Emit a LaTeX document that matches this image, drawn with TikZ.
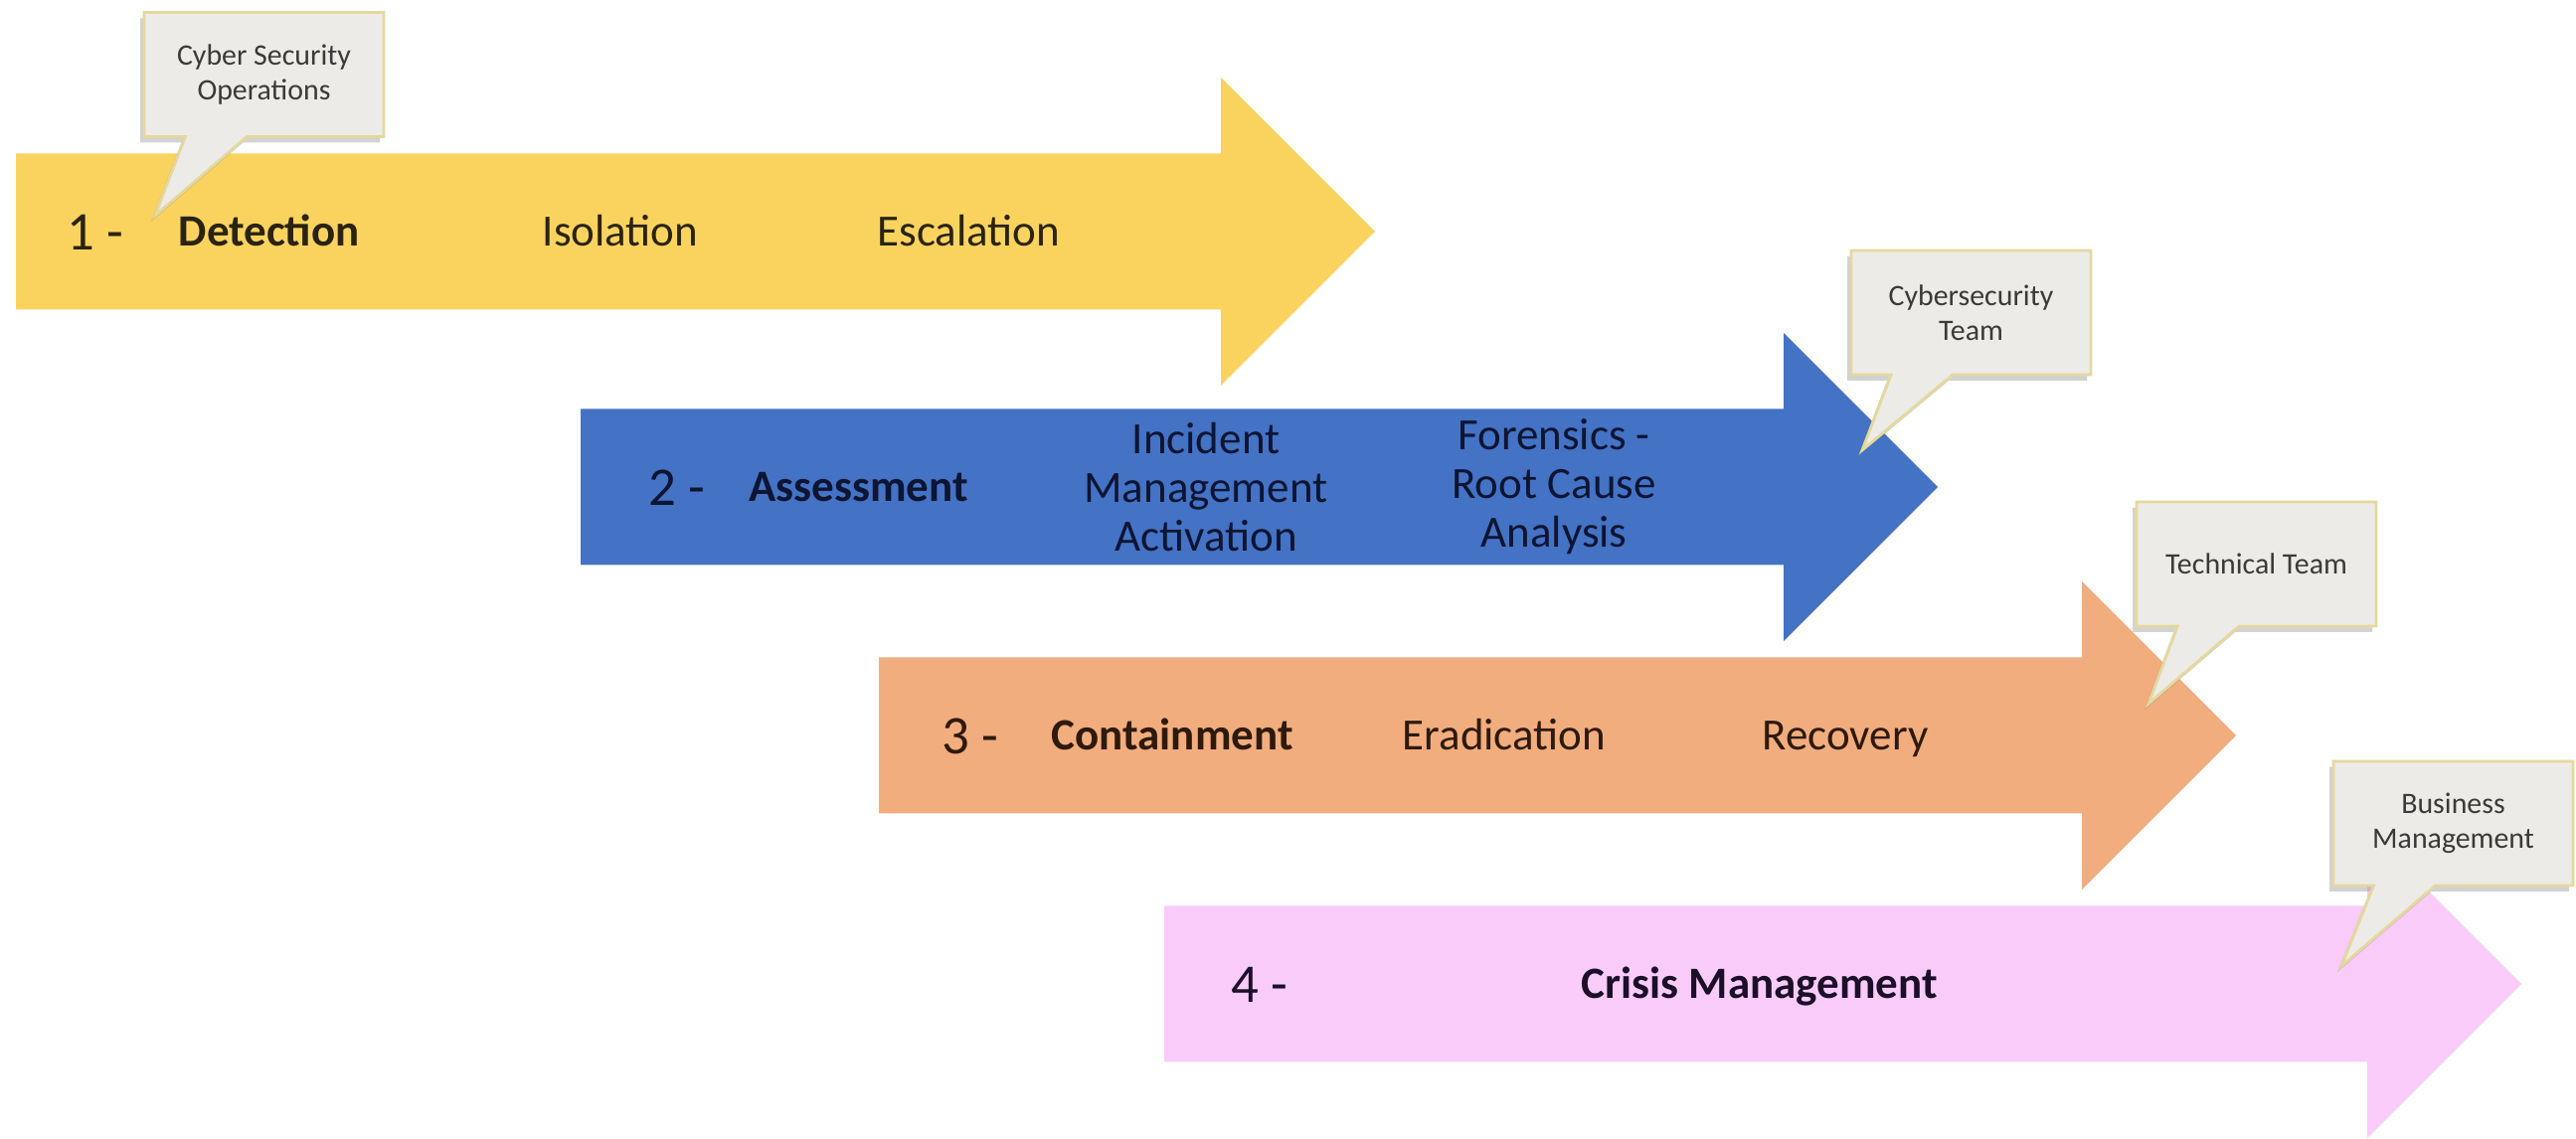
\documentclass[tikz,border=0pt]{standalone}
\usepackage{fontspec}
\setmainfont{Carlito}
\usepackage{xcolor}
\usepackage{tikz}
\usetikzlibrary{shapes.callouts,shadows}

\definecolor{stageyellow}{RGB}{250,211,95}
\definecolor{stageblue}{RGB}{68,114,196}
\definecolor{stageorange}{RGB}{241,173,126}
\definecolor{stagepink}{RGB}{249,203,249}
\definecolor{bubblefill}{RGB}{236,235,231}
\definecolor{bubbleline}{RGB}{228,216,158}
\definecolor{bubbletext}{RGB}{58,58,58}
\definecolor{inkyellow}{RGB}{42,35,16}
\definecolor{inkblue}{RGB}{13,21,51}
\definecolor{inkorange}{RGB}{46,26,12}
\definecolor{inkpink}{RGB}{28,15,42}

\begin{document}
\begin{tikzpicture}[
    stage/.style={anchor=base west, inner sep=0pt, font=\fontsize{12.8}{13.9}\selectfont},
    num/.style={anchor=base west, inner sep=0pt, font=\fontsize{15.6}{18}\selectfont},
    multi/.style={align=center, inner sep=0pt, font=\fontsize{12.8}{13.9}\selectfont},
    bubble/.style={rectangle callout, fill=bubblefill, draw=bubbleline, line width=0.8pt,
        minimum width=2.41cm, minimum height=1.25cm, callout pointer width=0.62cm,
        align=center, inner sep=0pt, text=bubbletext, font=\fontsize{8.5}{9.96}\selectfont,
        drop shadow={shadow xshift=-0.4mm, shadow yshift=-0.6mm, opacity=0.35}}
]
    \fill[white] (0,0) rectangle (25.91,11.46);
    \useasboundingbox (0,0) rectangle (25.91,11.46);

    % the four stage arrows
    \fill[stageyellow] (0.16,8.345) -- (12.28,8.345) -- (12.28,7.58) -- (13.83,9.13)
        -- (12.28,10.68) -- (12.28,9.915) -- (0.16,9.915) -- cycle;
    \fill[stageblue] (5.84,5.775) -- (17.94,5.775) -- (17.94,5.01) -- (19.49,6.56)
        -- (17.94,8.11) -- (17.94,7.345) -- (5.84,7.345) -- cycle;
    \fill[stageorange] (8.84,3.275) -- (20.94,3.275) -- (20.94,2.51) -- (22.49,4.06)
        -- (20.94,5.61) -- (20.94,4.845) -- (8.84,4.845) -- cycle;
    \fill[stagepink] (11.71,0.775) -- (23.81,0.775) -- (23.81,0.01) -- (25.36,1.56)
        -- (23.81,3.11) -- (23.81,2.345) -- (11.71,2.345) -- cycle;

    % 1 - detection
    \node[num, text=inkyellow] (one) at (0.67,8.94) {1 -};
    \node[stage, text=inkyellow] (det) at (1.79,8.985) {\textbf{Detection}};
    \node[stage, text=inkyellow] (iso) at (5.45,8.985) {Isolation};
    \node[stage, text=inkyellow] (esc) at (8.82,8.985) {Escalation};

    % 2 - assessment
    \node[num, text=inkblue] (two) at (6.52,6.37) {2 -};
    \node[stage, text=inkblue] (ass) at (7.53,6.415) {\textbf{Assessment}};
    \node[multi, text=inkblue] (act) at (12.13,6.56) {Incident\\Management\\Activation};
    \node[multi, text=inkblue] (rca) at (15.63,6.56) {Forensics -\\Root Cause\\Analysis};

    % 3 - containment
    \node[num, text=inkorange] (three) at (9.47,3.87) {3 -};
    \node[stage, text=inkorange] (con) at (10.57,3.915) {\textbf{Containment}};
    \node[stage, text=inkorange] (era) at (14.10,3.915) {Eradication};
    \node[stage, text=inkorange] (rec) at (17.72,3.915) {Recovery};

    % 4 - crisis
    \node[num, text=inkpink] (four) at (12.38,1.37) {4 -};
    \node[stage, text=inkpink] (crisis) at (15.90,1.415) {\textbf{Crisis Management}};

    % who is in charge
    \coordinate (opstip) at (1.56,9.29);
    \coordinate (cytip) at (18.73,6.93);
    \coordinate (techtip) at (21.61,4.38);
    \coordinate (biztip) at (23.55,1.74);
    \node[bubble, callout absolute pointer={(opstip)}] (ops) at (2.655,10.71) {Cyber Security\\Operations};
    \node[bubble, callout absolute pointer={(cytip)}] (cyteam) at (19.825,8.315) {Cybersecurity\\Team};
    \node[bubble, callout absolute pointer={(techtip)}] (techteam) at (22.695,5.785) {Technical Team};
    \node[bubble, callout absolute pointer={(biztip)}] (bizmgmt) at (24.675,3.175) {Business\\Management};
\end{tikzpicture}
\end{document}
